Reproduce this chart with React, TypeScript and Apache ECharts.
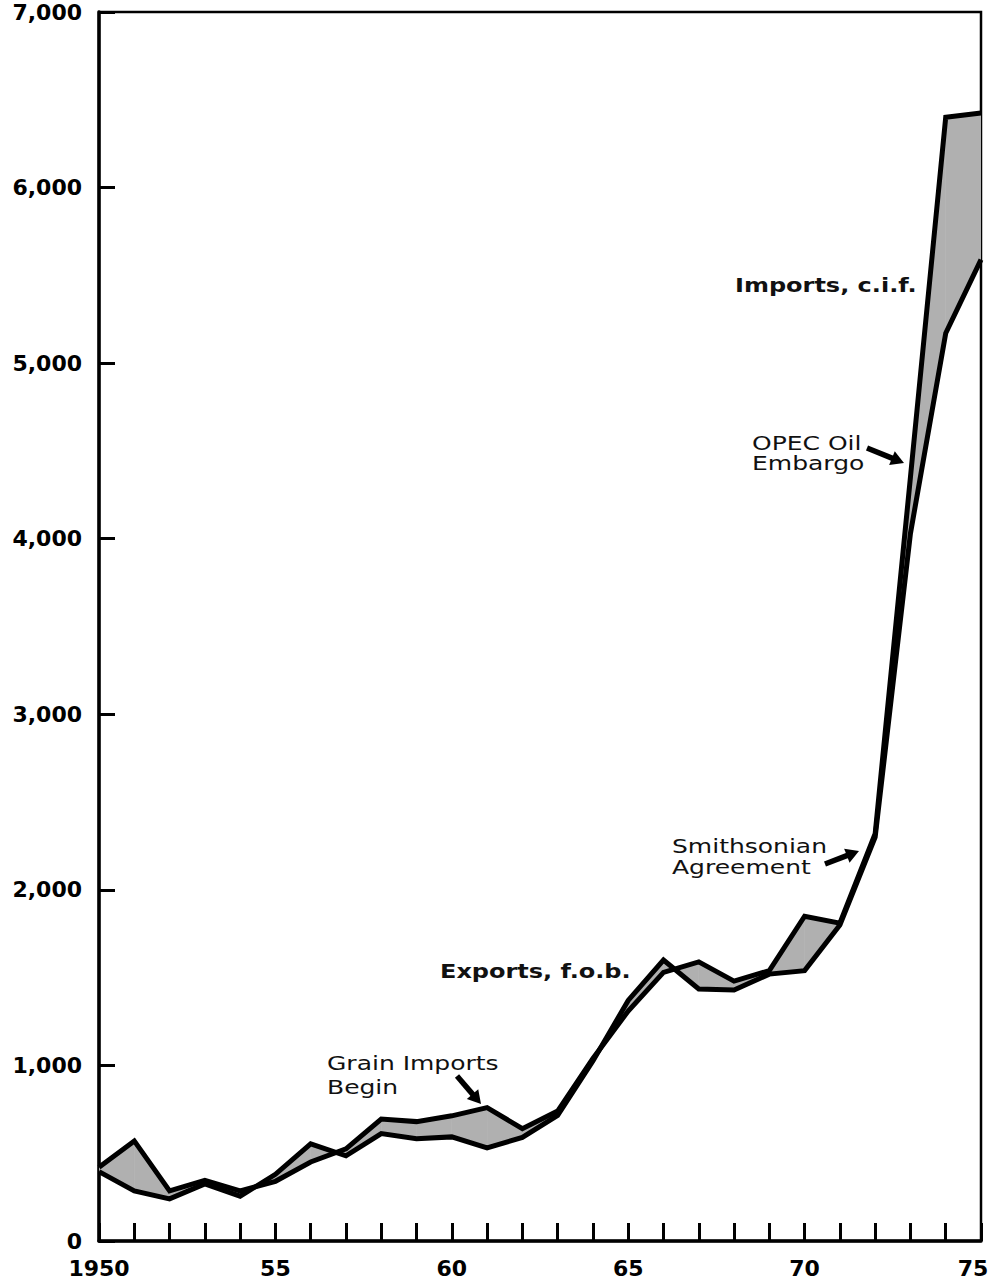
import React, { useEffect, useRef } from "react";
import * as echarts from "echarts";

const years = [
  1950, 1951, 1952, 1953, 1954, 1955, 1956, 1957, 1958, 1959, 1960, 1961, 1962,
  1963, 1964, 1965, 1966, 1967, 1968, 1969, 1970, 1971, 1972, 1973, 1974, 1975,
];
const imports = [
  420, 570, 285, 345, 285, 340, 450, 525, 695, 680, 713, 760, 640, 740, 1040,
  1310, 1530, 1590, 1480, 1540, 1850, 1810, 2320, 4350, 6400, 6425,
];
const exports = [
  395, 285, 240, 325, 255, 380, 553, 485, 612, 582, 593, 530, 590, 715, 1025,
  1370, 1600, 1435, 1430, 1520, 1540, 1800, 2300, 4030, 5170, 5590,
];
const xLabelYears = [1950, 1955, 1960, 1965, 1970, 1975];
const xLabelTexts = ["1950", "55", "60", "65", "70", "75"];

const noteTexts = [
  { text: "Imports, c.i.f.", x: 735, y: 285, bold: true },
  { text: "Exports, f.o.b.", x: 440, y: 971, bold: true },
  { text: "OPEC Oil", x: 752, y: 443, bold: false },
  { text: "Embargo", x: 752, y: 463, bold: false },
  { text: "Smithsonian", x: 672, y: 846, bold: false },
  { text: "Agreement", x: 672, y: 867, bold: false },
  { text: "Grain Imports", x: 327, y: 1063, bold: false },
  { text: "Begin", x: 327, y: 1087, bold: false },
];
const arrowSpecs = [
  [457, 1076, 481, 1104],
  [867, 448, 904, 463],
  [825, 864, 859, 851],
];

function buildArrows(): any[] {
  const out: any[] = [];
  arrowSpecs.forEach(([x1, y1, x2, y2]) => {
    const dx = x2 - x1;
    const dy = y2 - y1;
    const len = Math.sqrt(dx * dx + dy * dy);
    const ux = dx / len;
    const uy = dy / len;
    const nx = -uy;
    const ny = ux;
    const headLen = 13;
    const headHalf = 7.5;
    const bx = x2 - ux * headLen;
    const by = y2 - uy * headLen;
    out.push({
      type: "line",
      shape: { x1, y1, x2: bx + ux * 2, y2: by + uy * 2 },
      style: { stroke: "#000", lineWidth: 5.5 },
      z: 10,
    });
    out.push({
      type: "polygon",
      shape: {
        points: [
          [x2, y2],
          [bx + nx * headHalf, by + ny * headHalf],
          [bx - nx * headHalf, by - ny * headHalf],
        ],
      },
      style: { fill: "#000" },
      z: 10,
    });
  });
  return out;
}

function buildNotes(): any[] {
  return noteTexts.map((n) => ({
    type: "text",
    x: n.x,
    y: n.y,
    scaleX: n.bold ? 1.2 : 1.25,
    z: 10,
    style: {
      text: n.text,
      fontSize: 20,
      fontWeight: n.bold ? "bold" : "normal",
      fontFamily: "DejaVu Sans",
      fill: "#111",
      textAlign: "left",
      align: "left",
      textVerticalAlign: "middle",
      verticalAlign: "middle",
    },
  }));
}

export default function App() {
  const ref = useRef<HTMLDivElement>(null);
  useEffect(() => {
    if (!ref.current) return;
    const chart = echarts.init(ref.current, undefined, { renderer: "svg" });
    const bandData = years.slice(0, -1).map((y, i) => [y, imports[i], i]);
    const labelFont = {
      color: "#000",
      fontFamily: "DejaVu Sans",
      fontWeight: "bold",
      fontSize: 22,
    };
    const option: any = {
      animation: false,
      backgroundColor: "#fff",
      grid: {
        left: 99,
        right: 9,
        top: 12,
        bottom: 39,
        containLabel: false,
        outerBoundsMode: "none",
        show: true,
        borderColor: "#000",
        borderWidth: 2.5,
        backgroundColor: "transparent",
      },
      xAxis: {
        type: "value",
        min: 1950,
        max: 1975,
        interval: 1,
        axisLine: { show: true, lineStyle: { color: "#000", width: 3.5 } },
        axisTick: {
          show: true,
          inside: true,
          length: 18,
          lineStyle: { color: "#000", width: 3 },
        },
        splitLine: { show: false },
        axisLabel: {
          show: true,
          margin: 16,
          showMinLabel: true,
          showMaxLabel: true,
          ...labelFont,
          rich: {
            last: { ...labelFont, padding: [0, 16, 0, 0] },
          },
          formatter: (v: number) => {
            const i = xLabelYears.indexOf(Math.round(v));
            if (i < 0) return "";
            if (i === xLabelYears.length - 1) return "{last|" + xLabelTexts[i] + "}";
            return xLabelTexts[i];
          },
        },
      },
      yAxis: {
        type: "value",
        min: 0,
        max: 7000,
        interval: 1000,
        axisLine: { show: true, lineStyle: { color: "#000", width: 3.5 } },
        axisTick: {
          show: true,
          inside: true,
          length: 16,
          lineStyle: { color: "#000", width: 3 },
        },
        splitLine: { show: false },
        axisLabel: {
          margin: 17,
          ...labelFont,
          showMinLabel: true,
          showMaxLabel: true,
          formatter: (v: number) => v.toLocaleString("en-US"),
        },
      },
      series: [
        {
          type: "custom",
          name: "band",
          z: 1,
          clip: true,
          encode: { x: 0, y: 1 },
          data: bandData,
          renderItem: (params: any, api: any) => {
            const i = api.value(2);
            const pts = [
              api.coord([years[i], imports[i]]),
              api.coord([years[i + 1], imports[i + 1]]),
              api.coord([years[i + 1], exports[i + 1]]),
              api.coord([years[i], exports[i]]),
            ];
            return {
              type: "polygon",
              shape: { points: pts },
              style: { fill: "#b0b0b0", stroke: "#b0b0b0", lineWidth: 0.6 },
            };
          },
        },
        {
          type: "line",
          name: "Imports, c.i.f.",
          z: 3,
          symbol: "none",
          data: years.map((y, i) => [y, imports[i]]),
          lineStyle: { color: "#000", width: 5, join: "miter", miterLimit: 3 },
        },
        {
          type: "line",
          name: "Exports, f.o.b.",
          z: 3,
          symbol: "none",
          data: years.map((y, i) => [y, exports[i]]),
          lineStyle: { color: "#000", width: 5, join: "miter", miterLimit: 3 },
        },
      ],
      graphic: [...buildArrows(), ...buildNotes()],
    };
    chart.setOption(option);
    return () => chart.dispose();
  }, []);
  return (
    <div
      ref={ref}
      style={{ position: "absolute", left: 0, top: 0, width: 990, height: 1280 }}
    />
  );
}
